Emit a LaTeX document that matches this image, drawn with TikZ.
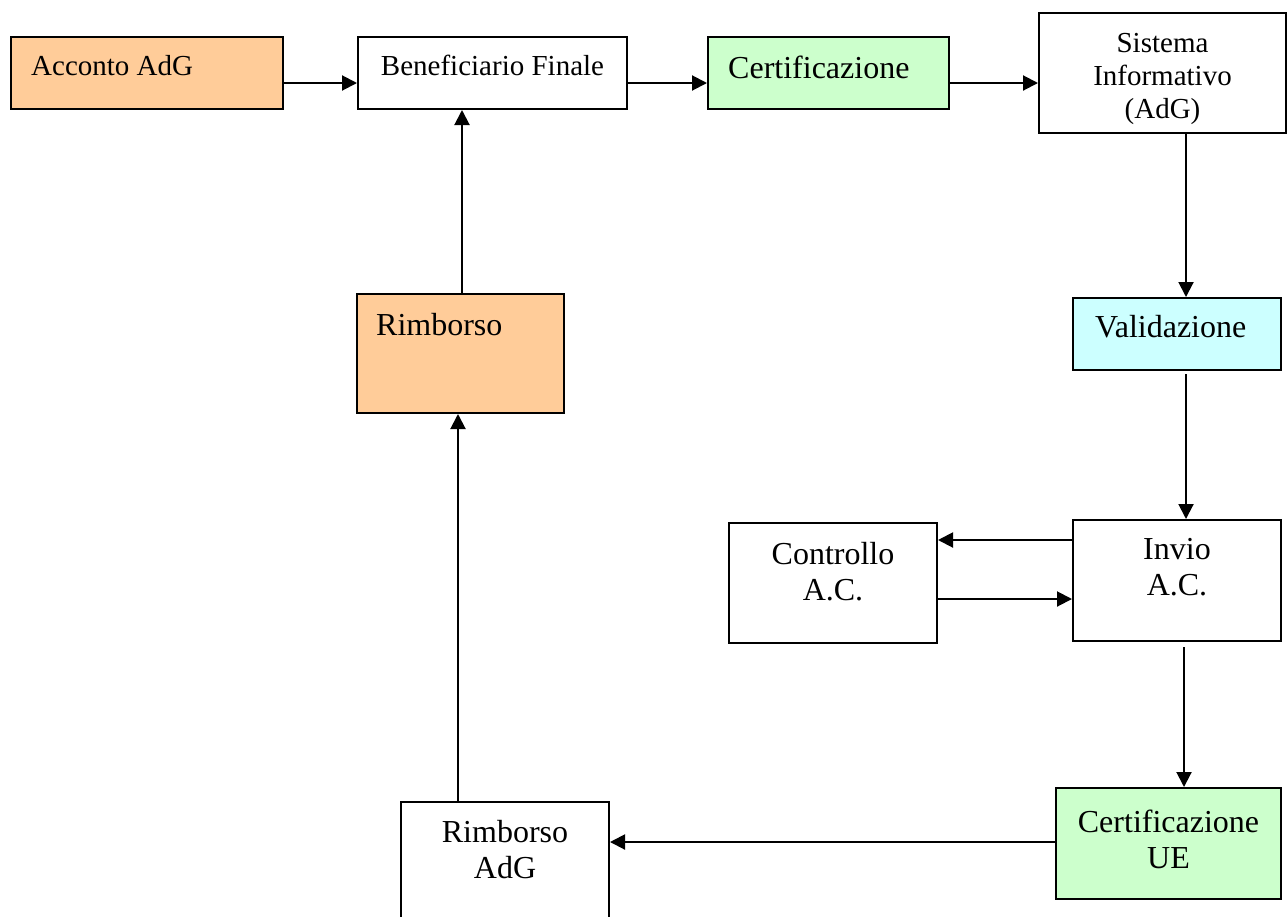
\documentclass[tikz,border=0pt]{standalone}
\usepackage{fontspec}
\setmainfont{Liberation Serif}
\usetikzlibrary{positioning,arrows.meta}
\definecolor{peach}{HTML}{FFCC99}
\definecolor{mint}{HTML}{CCFFCC}
\definecolor{aqua}{HTML}{CCFFFF}

\begin{document}
\begin{tikzpicture}[x=1pt,y=-1pt,
		box/.style={
				draw,
				line width=2pt,
				inner sep=0pt,
				anchor=north west},
		txt/.style={inner sep=0pt, align=center, font=\fontsize{29}{33}\selectfont},
		bigtxt/.style={inner sep=0pt, align=center, font=\fontsize{32}{36}\selectfont},
		arr/.style={line width=2pt, -{Triangle[length=15pt,width=15pt]}}]

	\useasboundingbox (0,0) rectangle (1287,916);
	\clip (0,0) rectangle (1287,916);

	% boxes
	\node[box, fill=peach, minimum width=272pt, minimum height=72pt] (acconto) at (10,36) {};
	\node[box, minimum width=269pt, minimum height=72pt] (benef) at (357,36) {};
	\node[box, fill=mint, minimum width=241pt, minimum height=72pt] (cert) at (707,36) {};
	\node[box, minimum width=247pt, minimum height=120pt] (sis) at (1038,12) {};
	\node[box, fill=aqua, minimum width=208pt, minimum height=72pt] (valid) at (1072,297) {};
	\node[box, minimum width=208pt, minimum height=121pt] (invio) at (1072,519) {};
	\node[box, minimum width=208pt, minimum height=120pt] (contr) at (728,522) {};
	\node[box, fill=mint, minimum width=225pt, minimum height=111pt] (certue) at (1055,787) {};
	\node[box, fill=peach, minimum width=207pt, minimum height=119pt] (rimb) at (356,293) {};
	\node[box, minimum width=208pt, minimum height=150pt] (rimbadg) at (400,801) {};

	% texts
	\node[txt, below right=19pt and 21pt of acconto.north west] (acconto-t) {Acconto AdG};
	\node[txt, below=19pt of benef.north] (benef-t) {Beneficiario Finale};
	\node[bigtxt, below right=20pt and 21pt of cert.north west] (cert-t) {Certificazione};
	\node[txt, below=21pt of sis.north] (sis-t) {Sistema\\Informativo\\(AdG)};
	\node[bigtxt, below right=18pt and 23pt of valid.north west] (valid-t) {Validazione};
	\node[bigtxt, below=19pt of invio.north] (invio-t) {Invio\\A.C.};
	\node[bigtxt, below=20pt of contr.north] (contr-t) {Controllo\\A.C.};
	\node[bigtxt, below=23pt of certue.north] (certue-t) {Certificazione\\UE};
	\node[bigtxt, below right=20pt and 20pt of rimb.north west] (rimb-t) {Rimborso};
	\node[bigtxt, below=19pt of rimbadg.north] (rimbadg-t) {Rimborso\\AdG};

	% connectors
	\coordinate (row) at (0,83);
	\coordinate (upper) at (0,540);
	\coordinate (lower) at (0,599);
	\coordinate (bottom) at (0,842);
	\coordinate (col) at (1186,0);
	\coordinate (col2) at (1184,0);
	\coordinate (left1) at (458,0);
	\coordinate (left2) at (462,0);

	\draw[arr] (acconto.east |- row) -- (benef.west |- row);
	\draw[arr] (benef.east |- row) -- (cert.west |- row);
	\draw[arr] (cert.east |- row) -- (sis.west |- row);
	\draw[arr] (sis.south -| col) -- (valid.north -| col);
	\draw[arr, shorten <=3pt] (valid.south -| col) -- (invio.north -| col);
	\draw[arr] (invio.west |- upper) -- (contr.east |- upper);
	\draw[arr] (contr.east |- lower) -- (invio.west |- lower);
	\draw[arr, shorten <=5pt] (invio.south -| col2) -- (certue.north -| col2);
	\draw[arr] (certue.west |- bottom) -- (rimbadg.east |- bottom);
	\draw[arr] (rimbadg.north -| left1) -- (rimb.south -| left1);
	\draw[arr] (rimb.north -| left2) -- (benef.south -| left2);

\end{tikzpicture}
\end{document}
